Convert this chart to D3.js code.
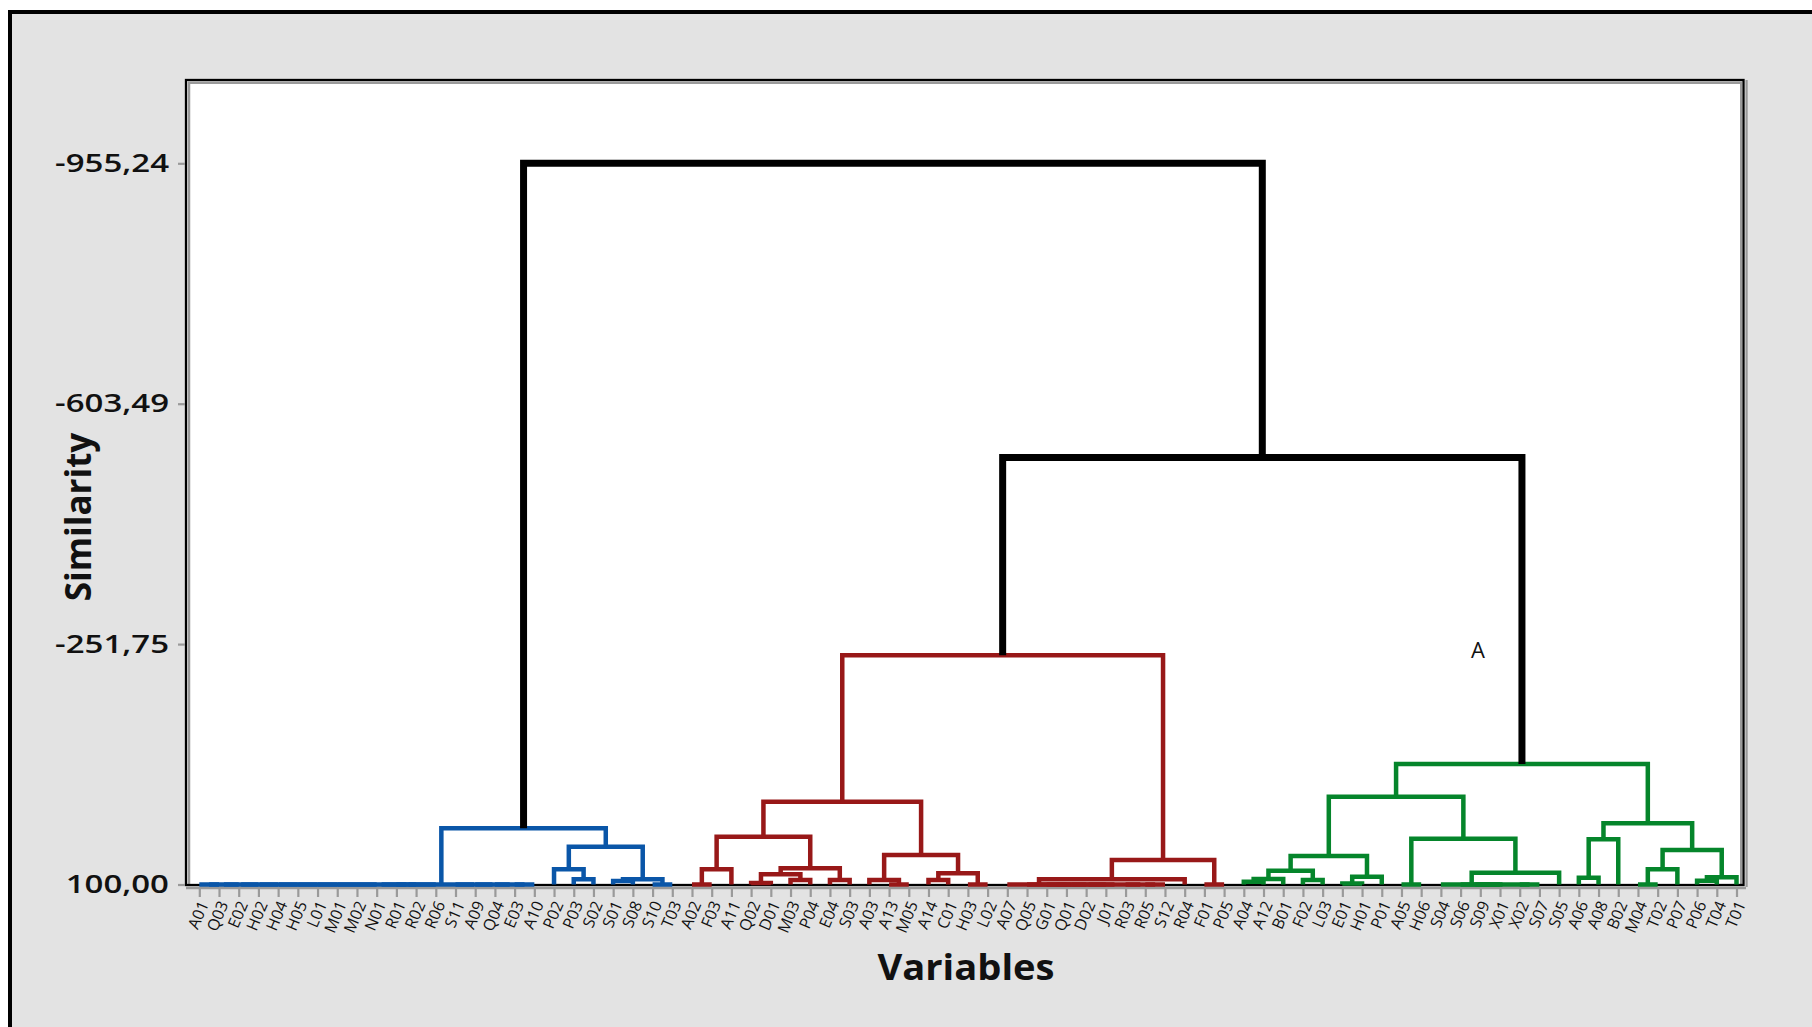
<!DOCTYPE html>
<html><head><meta charset="utf-8">
<script src="https://cdn.jsdelivr.net/npm/d3@7"></script>
<style>body{margin:0;background:#fff}</style>
</head><body><svg id="c" width="1812" height="1027"></svg>
<script>
// ---- data ----
const leaves = ["A01","Q03","E02","H02","H04","H05","L01","M01","M02","N01","R01","R02","R06","S11","A09","Q04","E03","A10",
  "P02","P03","S02","S01","S08","S10","T03",
  "A02","F03","A11","Q02","D01","M03","P04","E04","S03","A03","A13","M05","A14","C01","H03","L02",
  "A07","Q05","G01","Q01","D02","J01","R03","R05","S12","R04","F01","P05",
  "A04","A12","B01","F02","L03","E01","H01","P01","A05","H06","S04","S06","S09","X01","X02","S07","S05",
  "A06","A08","B02","M04","T02","P07","P06","T04","T01"];

// linkage table: [id, child A, child B, similarity level]
const merges = [
  ["m1","A01","Q03",100],["m2","m1","E02",100],["m3","m2","H02",100],["m4","m3","H04",100],["m5","m4","H05",100],
  ["m6","m5","L01",100],["m7","m6","M01",100],["m8","m7","M02",100],["m9","m8","N01",100],["m10","R01","R02",100],
  ["m11","m9","m10",100],["m12","m11","R06",100],["m13","E03","A10",100],["m14","Q04","m13",100],["m15","A09","m14",100],
  ["m16","S11","m15",100],["bL","m12","m16",100],
  ["b1","P03","S02",92.4],["b2","P02","b1",77.8],["b3","S01","S08",94.9],["b4","S10","T03",100],["b5","b3","b4",92.4],
  ["b6","b2","b5",44.7],["B","bL","b6",17.8],
  ["r1","A02","F03",100],["r2","r1","A11",77.8],["r3","Q02","D01",97.8],["r4","M03","P04",93.4],["r5","r3","r4",85.1],
  ["r6","E04","S03",93.4],["r7","r5","r6",76.3],["r8","r2","r7",30.1],["r9","A13","M05",100],["r10","A03","r9",93.4],
  ["r11","A14","C01",93.4],["r12","H03","L02",100],["r13","r11","r12",83.6],["r14","r10","r13",56.8],["r15","r8","r14",-21.2],
  ["r16","G01","Q01",100],["r17","r16","D02",100],["r18","r17","J01",100],["r19","R05","S12",100],["r20","R03","r19",100],
  ["r21","r18","r20",100],["r22","Q05","r21",100],["r23","A07","r22",100],["r24","r23","R04",92.4],["r25","F01","P05",100],
  ["r26","r24","r25",64.2],["R","r15","r26",-235.5],
  ["g1","A04","A12",95.9],["g2","g1","B01",92.0],["g3","F02","L03",93.4],["g4","g2","g3",79.8],["g5","E01","H01",98.5],
  ["g6","g5","P01",88.6],["g7","g4","g6",58.3],["g8","A05","H06",100],["g9","S09","X01",100],["g10","S06","g9",100],
  ["g11","X02","S07",100],["g12","g10","g11",100],["g13","S04","g12",100],["g14","g13","S05",82.7],["g15","g8","g14",33.1],
  ["g16","g7","g15",-28.5],["g17","A06","A08",90.1],["g18","g17","B02",33.9],["g19","M04","T02",100],["g20","g19","P07",77.8],
  ["g21","P06","T04",94.4],["g22","g21","T01",89.5],["g23","g20","g22",49.5],["g24","g18","g23",10.5],["G","g16","g24",-76.3],
  ["k1","R","G",-524.6],["root","B","k1",-955.24]
];
const clusterNodes = ["B","R","G"];
const clusterColors = ["#0a56a8","#981818","#05852b"];
const yTicks = [100, -251.75, -603.49, -955.24];
const xTitle = "Variables", yTitle = "Similarity", noteText = "A";

// ---- drawing ----
const svg = d3.select("#c");
const FONT = "'Open Sans', sans-serif";
svg.append("rect").attr("x",10).attr("y",12).attr("width",1900).attr("height",1100)
  .attr("fill","#e3e3e3").attr("stroke","#000").attr("stroke-width",4);
svg.append("rect").attr("x",187).attr("y",81).attr("width",1556).attr("height",804).attr("fill","#fff");

const x = d3.scalePoint().domain(leaves).range([199.3, 1736.5]);
const y = d3.scaleLinear().domain([100, -955.24]).range([884.5, 163.3]);
const loc = d3.formatLocale({decimal:",", thousands:".", grouping:[3], currency:["",""], minus:"-"});
const fmt = loc.format(".2f");

// frame
const gray = "#9a9a9a";
svg.append("line").attr("x1",189).attr("x2",189).attr("y1",82).attr("y2",885).attr("stroke",gray).attr("stroke-width",2.5);
svg.append("line").attr("x1",188).attr("x2",1742).attr("y1",82.8).attr("y2",82.8).attr("stroke",gray).attr("stroke-width",2.5);
svg.append("line").attr("x1",1741).attr("x2",1741).attr("y1",82).attr("y2",885).attr("stroke",gray).attr("stroke-width",2);
svg.append("line").attr("x1",1746.6).attr("x2",1746.6).attr("y1",80).attr("y2",887).attr("stroke",gray).attr("stroke-width",2.2);
svg.append("line").attr("x1",186).attr("x2",1746).attr("y1",888).attr("y2",888).attr("stroke",gray).attr("stroke-width",2.6);
svg.append("rect").attr("x",186).attr("y",80).attr("width",1557.5).attr("height",805)
  .attr("fill","none").attr("stroke","#000").attr("stroke-width",2.3);

// x axis ticks + labels
const xa = svg.append("g").attr("transform","translate(0,889)")
  .call(d3.axisBottom(x).tickSize(8).tickPadding(4));
xa.select(".domain").remove();
xa.selectAll(".tick line").attr("stroke",gray).attr("stroke-width",2.2);
xa.selectAll(".tick text")
  .attr("font-family",FONT).attr("font-size",16).attr("fill","#111")
  .attr("text-anchor","end").attr("y",0).attr("dy","0.35em")
  .attr("transform","translate(4,13) rotate(-67)");

// y axis
const ya = svg.append("g").attr("transform","translate(185,0)")
  .call(d3.axisLeft(y).tickValues(yTicks).tickFormat(fmt).tickSize(7).tickPadding(9));
ya.select(".domain").remove();
ya.selectAll(".tick line").attr("stroke",gray).attr("stroke-width",2.2);
ya.selectAll(".tick text").attr("font-family",FONT).attr("font-size",25).attr("font-weight",600).attr("fill","#111")
  .attr("x",0).attr("transform","translate(-16,0) scale(1.32,1)");

// tree
const nodes = new Map();
leaves.forEach(l => nodes.set(l, {id:l, leaf:true, h:100, x:x(l)}));
merges.forEach(([id,a,b,h]) => {
  const A = nodes.get(a), B = nodes.get(b);
  nodes.set(id, {id, a:A, b:B, h, x:(A.x + B.x)/2});
});
function paint(n, col){
  const ci = clusterNodes.indexOf(n.id);
  if (ci >= 0) col = clusterColors[ci];
  n.color = col;
  if (!n.leaf){ paint(n.a, col); paint(n.b, col); }
}
paint(nodes.get("root"), "#000");
const internal = merges.map(m => nodes.get(m[0]));
const linkG = svg.append("g").attr("fill","none").attr("stroke-linejoin","miter");
internal.filter(n => n.color !== "#000").forEach(n => {
  linkG.append("path")
    .attr("d", `M${n.a.x},${y(n.a.h)}V${y(n.h)}H${n.b.x}V${y(n.b.h)}`)
    .attr("stroke", n.color).attr("stroke-width", 4.5);
});
internal.filter(n => n.color === "#000").forEach(n => {
  linkG.append("path")
    .attr("d", `M${n.a.x},${y(n.a.h)}V${y(n.h)}H${n.b.x}V${y(n.b.h)}`)
    .attr("stroke", "#000").attr("stroke-width", 7);
});

// titles
svg.append("text").attr("transform","translate(966,980) scale(1.06,1)").attr("text-anchor","middle")
  .attr("font-family",FONT).attr("font-weight",700).attr("font-size",36).attr("fill","#111")
  .text(xTitle);
svg.append("text").attr("transform","translate(91,517) rotate(-90)").attr("text-anchor","middle")
  .attr("font-family",FONT).attr("font-weight",700).attr("font-size",35).attr("fill","#111")
  .text(yTitle);
svg.append("text").attr("x",1478).attr("y",658).attr("text-anchor","middle")
  .attr("font-family",FONT).attr("font-size",22).attr("fill","#111")
  .text(noteText);
</script></body></html>
